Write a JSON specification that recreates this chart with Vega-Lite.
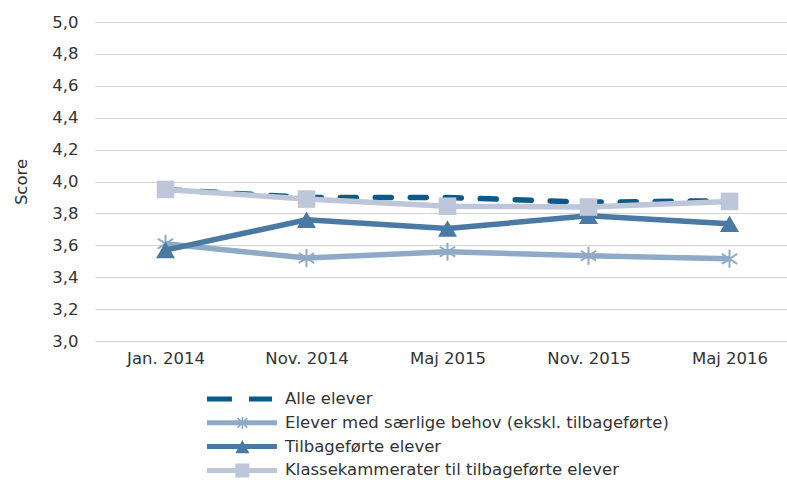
{
  "$schema": "https://vega.github.io/schema/vega-lite/v6.json",
  "width": 705,
  "height": 319,
  "autosize": {"type": "none"},
  "padding": {"left": 95, "top": 22, "right": 0, "bottom": 143},
  "background": "white",
  "config": {
    "font": "DejaVu Sans",
    "view": {"stroke": null},
    "axis": {"labelFontSize": 16.5, "labelColor": "#333333", "titleFontSize": 16.5, "titleFontWeight": "normal", "titleColor": "#333333"}
  },
  "data": {
    "values": [
      {"periode": "Jan. 2014", "serie": "Alle elever", "score": 3.95},
      {"periode": "Nov. 2014", "serie": "Alle elever", "score": 3.90},
      {"periode": "Maj 2015", "serie": "Alle elever", "score": 3.90},
      {"periode": "Nov. 2015", "serie": "Alle elever", "score": 3.87},
      {"periode": "Maj 2016", "serie": "Alle elever", "score": 3.88},
      {"periode": "Jan. 2014", "serie": "Elever med særlige behov (ekskl. tilbageførte)", "score": 3.61},
      {"periode": "Nov. 2014", "serie": "Elever med særlige behov (ekskl. tilbageførte)", "score": 3.52},
      {"periode": "Maj 2015", "serie": "Elever med særlige behov (ekskl. tilbageførte)", "score": 3.56},
      {"periode": "Nov. 2015", "serie": "Elever med særlige behov (ekskl. tilbageførte)", "score": 3.535},
      {"periode": "Maj 2016", "serie": "Elever med særlige behov (ekskl. tilbageførte)", "score": 3.515},
      {"periode": "Jan. 2014", "serie": "Tilbageførte elever", "score": 3.57},
      {"periode": "Nov. 2014", "serie": "Tilbageførte elever", "score": 3.76},
      {"periode": "Maj 2015", "serie": "Tilbageførte elever", "score": 3.705},
      {"periode": "Nov. 2015", "serie": "Tilbageførte elever", "score": 3.785},
      {"periode": "Maj 2016", "serie": "Tilbageførte elever", "score": 3.735},
      {"periode": "Jan. 2014", "serie": "Klassekammerater til tilbageførte elever", "score": 3.95},
      {"periode": "Nov. 2014", "serie": "Klassekammerater til tilbageførte elever", "score": 3.89},
      {"periode": "Maj 2015", "serie": "Klassekammerater til tilbageførte elever", "score": 3.845},
      {"periode": "Nov. 2015", "serie": "Klassekammerater til tilbageførte elever", "score": 3.84},
      {"periode": "Maj 2016", "serie": "Klassekammerater til tilbageførte elever", "score": 3.875}
    ]
  },
  "encoding": {
    "x": {
      "field": "periode", "type": "ordinal",
      "sort": ["Jan. 2014", "Nov. 2014", "Maj 2015", "Nov. 2015", "Maj 2016"],
      "scale": {"type": "point", "padding": 0.5},
      "axis": {"title": null, "labelAngle": 0, "labelPadding": 9, "domain": false, "ticks": false, "grid": false}
    },
    "y": {
      "field": "score", "type": "quantitative",
      "scale": {"domain": [3, 5], "zero": false, "nice": false},
      "axis": {
        "title": "Score",
        "values": [3, 3.2, 3.4, 3.6, 3.8, 4, 4.2, 4.4, 4.6, 4.8, 5],
        "labelExpr": "replace(format(datum.value, '.1f'), '.', ',')",
        "grid": true, "gridColor": "#d3d3d3", "gridWidth": 1.2,
        "domain": false, "ticks": false, "labelPadding": 17, "titlePadding": 22
      }
    },
    "color": {
      "field": "serie", "type": "nominal",
      "scale": {
        "domain": ["Alle elever", "Elever med særlige behov (ekskl. tilbageførte)", "Tilbageførte elever", "Klassekammerater til tilbageførte elever"],
        "range": ["#0b5a8a", "#8eaac6", "#4a7aa3", "#bdc7d9"]
      },
      "legend": {
        "title": null, "orient": "none", "legendX": 112, "legendY": 365, "direction": "vertical",
        "symbolSize": 576, "labelOffset": 54, "labelFontSize": 16.5, "labelColor": "#333333",
        "rowPadding": 2.8, "padding": 0, "labelLimit": 600,
        "encode": {
          "symbols": {
            "update": {
              "shape": {"signal": "datum.index===0?'M-1,-0.208H1.08V0.208H-1ZM2.5,-0.208H4.42V0.208H2.5Z':datum.index===1?'M-1,-0.208H4.833V0.208H-1ZM1.88,-0.5H2.02V0.5H1.88ZM1.6,-0.45L2.4,0.35L2.3,0.45L1.5,-0.35ZM2.3,-0.45L2.4,-0.35L1.6,0.45L1.5,0.35Z':datum.index===2?'M-1,-0.208H4.833V0.208H-1ZM1.95,-0.55L2.533,0.55H1.367Z':'M-1,-0.208H4.833V0.208H-1ZM1.367,-0.583H2.533V0.583H1.367Z'"},
              "fill": {"scale": "color", "field": "value"},
              "stroke": {"value": "transparent"},
              "strokeWidth": {"value": 0},
              "opacity": {"value": 1}
            }
          }
        }
      }
    }
  },
  "layer": [
    {
      "transform": [{"filter": {"field": "serie", "equal": "Elever med særlige behov (ekskl. tilbageførte)"}}],
      "layer": [
        {"mark": {"type": "line", "strokeWidth": 5.5}},
        {"mark": {"type": "point", "shape": "M0,-1V1M-0.85,-0.55L0.85,0.55M-0.85,0.55L0.85,-0.55", "filled": false, "size": 324, "strokeWidth": 2, "opacity": 1}}
      ]
    },
    {
      "transform": [{"filter": {"field": "serie", "equal": "Tilbageførte elever"}}],
      "layer": [
        {"mark": {"type": "line", "strokeWidth": 5.5}},
        {"mark": {"type": "point", "shape": "triangle-up", "filled": true, "size": 361, "opacity": 1}}
      ]
    },
    {
      "transform": [{"filter": {"field": "serie", "equal": "Alle elever"}}],
      "layer": [
        {"mark": {"type": "line", "strokeWidth": 5.5, "strokeDash": [16, 19], "strokeCap": "round"}}
      ]
    },
    {
      "transform": [{"filter": {"field": "serie", "equal": "Klassekammerater til tilbageførte elever"}}],
      "layer": [
        {"mark": {"type": "line", "strokeWidth": 5.5}},
        {"mark": {"type": "point", "shape": "square", "filled": true, "size": 310, "opacity": 1}}
      ]
    }
  ]
}
